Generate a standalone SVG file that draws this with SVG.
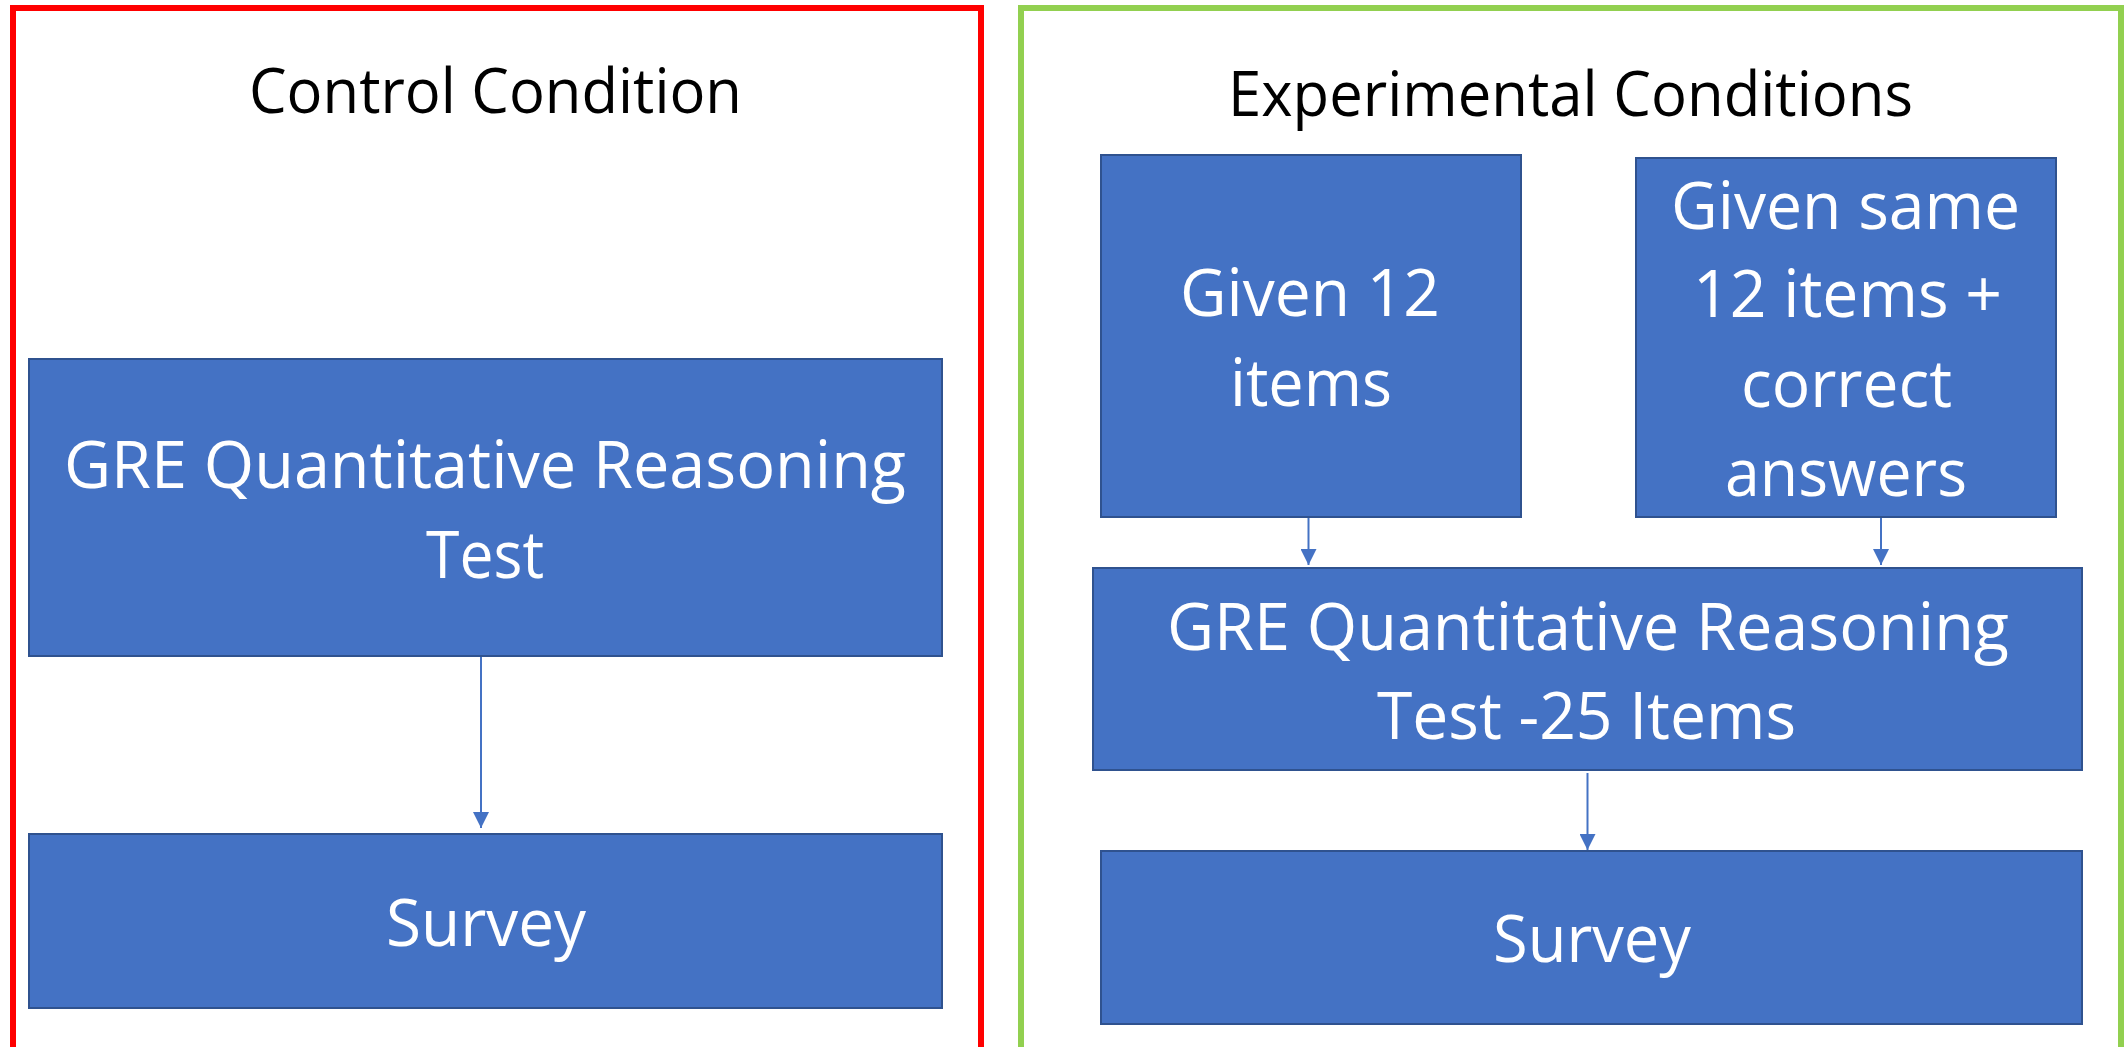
<svg xmlns="http://www.w3.org/2000/svg" width="2126" height="1047" viewBox="0 0 2126 1047">
<style>
.box{fill:#4472C4;stroke:#2F528F;stroke-width:2}
.t{font-family:"Open Sans","Noto Sans","Liberation Sans",sans-serif;fill:#FFFFFF;font-size:66px}
.h{font-family:"Open Sans","Noto Sans","Liberation Sans",sans-serif;fill:#000000;font-size:62px}
.c{stroke:#4472C4;stroke-width:2;fill:none}
</style>
<defs>
<marker id="ah" markerUnits="userSpaceOnUse" markerWidth="16" markerHeight="16" viewBox="0 0 16 16" refX="16" refY="8" orient="auto">
<path d="M0,0 L16,8 L0,16 Z" fill="#4472C4"/>
</marker>
</defs>
<rect width="2126" height="1047" fill="#FFFFFF"/>
<g id="control-frame">
<rect x="13" y="8" width="968" height="1100" fill="none" stroke="#FF0000" stroke-width="6"/>
<text class="h" x="249" y="113" textLength="493" lengthAdjust="spacingAndGlyphs">Control Condition</text>
</g>
<g id="experimental-frame">
<rect x="1021" y="8" width="1100" height="1100" fill="none" stroke="#92D050" stroke-width="6"/>
<text class="h" x="1228" y="116" textLength="685" lengthAdjust="spacingAndGlyphs">Experimental Conditions</text>
</g>
<g id="connectors">
<line class="c" x1="481" y1="656" x2="481" y2="828" marker-end="url(#ah)"/>
<line class="c" x1="1308.5" y1="517" x2="1308.5" y2="565" marker-end="url(#ah)"/>
<line class="c" x1="1881" y1="517" x2="1881" y2="565" marker-end="url(#ah)"/>
<line class="c" x1="1587.5" y1="773" x2="1587.5" y2="850" marker-end="url(#ah)"/>
</g>
<g id="control-gre">
<rect class="box" x="29" y="359" width="913" height="297"/>
<text class="t" x="64" y="488" textLength="842" lengthAdjust="spacingAndGlyphs">GRE Quantitative Reasoning</text>
<text class="t" x="426" y="578" textLength="118" lengthAdjust="spacingAndGlyphs">Test</text>
</g>
<g id="control-survey">
<rect class="box" x="29" y="834" width="913" height="174"/>
<text class="t" x="386" y="946" textLength="200" lengthAdjust="spacingAndGlyphs">Survey</text>
</g>
<g id="given-12">
<rect class="box" x="1101" y="155" width="420" height="362"/>
<text class="t" x="1180" y="316" textLength="260" lengthAdjust="spacingAndGlyphs">Given 12</text>
<text class="t" x="1230" y="406" textLength="162" lengthAdjust="spacingAndGlyphs">items</text>
</g>
<g id="given-same">
<rect class="box" x="1636" y="158" width="420" height="359"/>
<text class="t" x="1671" y="229" textLength="349" lengthAdjust="spacingAndGlyphs">Given same</text>
<text class="t" x="1693" y="317" textLength="309" lengthAdjust="spacingAndGlyphs">12 items +</text>
<text class="t" x="1741" y="407" textLength="211" lengthAdjust="spacingAndGlyphs">correct</text>
<text class="t" x="1725" y="496" textLength="242" lengthAdjust="spacingAndGlyphs">answers</text>
</g>
<g id="experimental-gre">
<rect class="box" x="1093" y="568" width="989" height="202"/>
<text class="t" x="1167" y="650" textLength="842" lengthAdjust="spacingAndGlyphs">GRE Quantitative Reasoning</text>
<text class="t" x="1377" y="739" textLength="419" lengthAdjust="spacingAndGlyphs">Test -25 Items</text>
</g>
<g id="experimental-survey">
<rect class="box" x="1101" y="851" width="981" height="173"/>
<text class="t" x="1493" y="962" textLength="198" lengthAdjust="spacingAndGlyphs">Survey</text>
</g>
</svg>
